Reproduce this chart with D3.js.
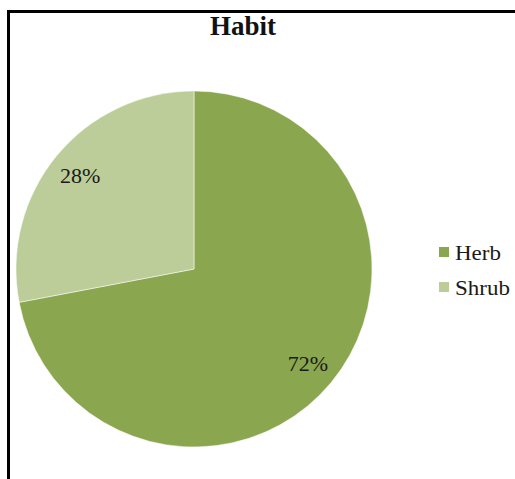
<!DOCTYPE html>
<html>
<head>
<meta charset="utf-8">
<script src="https://cdn.jsdelivr.net/npm/d3@7"></script>
<style>
  html, body { margin: 0; padding: 0; background: #fff; }
  svg { display: block; }
</style>
</head>
<body>
<svg id="chart" width="515" height="479"></svg>
<script>
// Plant habit shares
const categories = ["Herb", "Shrub"];
const values = [72, 28];
const colors = ["#8aa64f", "#bccd99"];
const title = "Habit";

const W = 515, H = 479;
const cx = 194, cy = 269, radius = 178;
const fontFamily = "'Liberation Serif', 'Times New Roman', serif";

const svg = d3.select("#chart");

// Frame
svg.append("rect")
  .attr("x", 8.5).attr("y", 11.5)
  .attr("width", W + 20).attr("height", H + 20)
  .attr("fill", "#fff")
  .attr("stroke", "#000")
  .attr("stroke-width", 3);

// Title
svg.append("text")
  .attr("x", 243).attr("y", 35)
  .attr("text-anchor", "middle")
  .attr("font-family", fontFamily)
  .attr("font-weight", "bold")
  .attr("font-size", 27)
  .attr("fill", "#111")
  .text(title);

const color = d3.scaleOrdinal().domain(categories).range(colors);
const data = categories.map((c, i) => ({ name: c, value: values[i] }));

const pie = d3.pie().sort(null).value(d => d.value);
const arc = d3.arc().innerRadius(0).outerRadius(radius);
const labelArc = d3.arc().innerRadius(radius * 0.83).outerRadius(radius * 0.83);

const g = svg.append("g").attr("transform", `translate(${cx},${cy})`);
const arcs = pie(data);

g.selectAll("path.slice")
  .data(arcs)
  .join("path")
  .attr("class", "slice")
  .attr("d", arc)
  .attr("fill", d => color(d.data.name))
  .attr("stroke", "#ffffff")
  .attr("stroke-opacity", 0.5)
  .attr("stroke-width", 1);

const total = d3.sum(values);
g.selectAll("text.pct")
  .data(arcs)
  .join("text")
  .attr("class", "pct")
  .attr("transform", d => {
    const [x, y] = labelArc.centroid(d);
    return `translate(${x},${y + 1}) scale(1.1,1)`;
  })
  .attr("dy", "0.35em")
  .attr("text-anchor", "middle")
  .attr("font-family", fontFamily)
  .attr("font-size", 20)
  .attr("fill", "#1a1a1a")
  .text(d => Math.round(d.data.value / total * 100) + "%");

// Legend
const legend = svg.append("g").attr("transform", "translate(439,247)");
const item = legend.selectAll("g.item")
  .data(categories)
  .join("g")
  .attr("class", "item")
  .attr("transform", (d, i) => `translate(0,${i * 35})`);

item.append("rect")
  .attr("width", 10).attr("height", 10)
  .attr("fill", d => color(d));

item.append("text")
  .attr("transform", "translate(16,13) scale(1.15,1)")
  .attr("font-family", fontFamily)
  .attr("font-size", 20)
  .attr("fill", "#1a1a1a")
  .text(d => d);
</script>
</body>
</html>
